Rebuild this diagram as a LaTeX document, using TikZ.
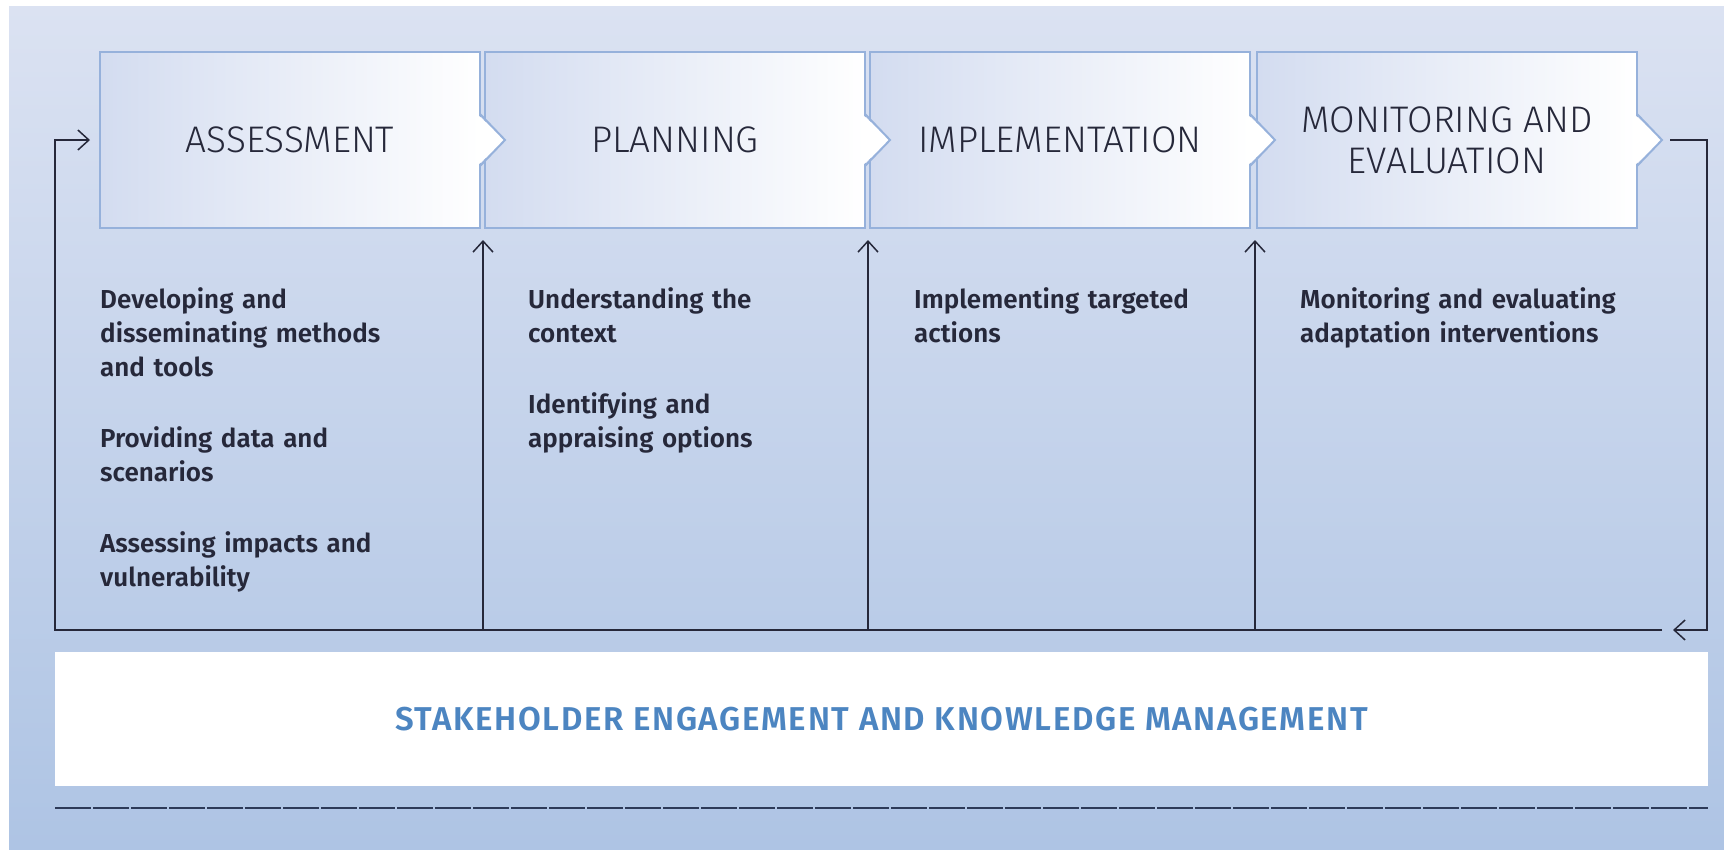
\documentclass[tikz,border=0pt]{standalone}
\usepackage{fontspec}
\IfFontExistsTF{Fira Sans Light}
  {\newfontfamily\titlefont{Fira Sans Light}}
  {\newfontfamily\titlefont{Fira Sans}}
\IfFontExistsTF{Fira Sans SemiBold}
  {\newfontfamily\bodyfont{Fira Sans SemiBold}\let\bodyweight\relax}
  {\newfontfamily\bodyfont{Fira Sans}\let\bodyweight\bfseries}
\usetikzlibrary{arrows.meta,calc,positioning}

\definecolor{bgtop}{RGB}{219,226,242}
\definecolor{bgbot}{RGB}{174,196,228}
\definecolor{boxleft}{RGB}{211,220,240}
\definecolor{boxline}{RGB}{150,177,219}
\definecolor{inkblue}{RGB}{76,133,193}
\definecolor{ink}{RGB}{38,40,58}
\definecolor{rulecol}{RGB}{45,58,88}

\tikzset{
  phase/.style={draw=boxline,line width=2pt,left color=boxleft,right color=white,
    minimum width=380pt,minimum height=176pt,inner sep=0pt,outer sep=0pt,
    align=center,text=ink,font=\titlefont\fontsize{37}{41}\selectfont},
  tasks/.style={anchor=north west,inner sep=0pt,align=left,text width=370pt,
    text=ink,font=\bodyfont\bodyweight\fontsize{26}{34}\selectfont},
  cycleline/.style={draw=ink,line width=1.5pt},
  cyclearrow/.style={cycleline,-{Straight Barb[length=11pt,width=20pt]}},
  rule/.style={draw=rulecol,line width=2pt,dash pattern=on 36pt off 2pt},
}

\begin{document}
\begin{tikzpicture}[x=1pt,y=-1pt]
\useasboundingbox (0,0) rectangle (1724,849);
\fill[white] (0,0) rectangle (1724,849);
\shade[top color=bgtop,bottom color=bgbot] (9,6) rectangle (1724,849);

% the four phases
\node[phase] (p1) at (290,140) {ASSESSMENT};
\node[phase] (p2) at (675,140) {PLANNING};
\node[phase] (p3) at (1060,140) {IMPLEMENTATION};
\node[phase] (p4) at (1447,140) {MONITORING AND\\EVALUATION};

% chevron tips on the right side of each phase
\foreach \p in {p1,p2,p3,p4}{
  \coordinate (\p-tip) at ($(\p.east)+(25,0)$);
  \fill[white] ($(\p.east)+(-3,-26)$) -- (\p-tip) -- ($(\p.east)+(-3,26)$) -- cycle;
  \draw[boxline,line width=2pt] ($(\p.east)+(0,-26)$) -- (\p-tip) -- ($(\p.east)+(0,26)$);
}

% tasks under each phase
\node[tasks] (t1) at (100,287) {Developing and\\disseminating methods\\and tools\\[37pt]Providing data and\\scenarios\\[37pt]Assessing impacts and\\vulnerability};
\node[tasks] (t2) at (528,287) {Understanding the\\context\\[37pt]Identifying and\\appraising options};
\node[tasks] (t3) at (914,287) {Implementing targeted\\actions};
\node[tasks] (t4) at (1300,287) {Monitoring and evaluating\\adaptation interventions};

% stakeholder band
\node[fill=white,minimum width=1653pt,minimum height=134pt,inner sep=0pt,
  text=inkblue,font=\bodyfont\bodyweight\fontsize{33}{33}\selectfont\addfontfeature{LetterSpace=5}]
  (band) at (881.5,719) {STAKEHOLDER ENGAGEMENT AND KNOWLEDGE MANAGEMENT};
\coordinate (rl) at (55,808);
\coordinate (rr) at (1708,808);
\draw[rule] (rl) -- (rr);

% the cycle
\coordinate (ne) at (1707,140);
\coordinate (se) at (1707,630);
\coordinate (back) at (1662,630);
\coordinate (sw) at (55,630);
\draw[cyclearrow] ($(p4-tip)+(8,0)$) -- (ne) -- (se) -- ++(-34,0);
\draw[cyclearrow] (back) -- (sw) |- ($(p1.west)+(-10,0)$);
\foreach \p/\n in {p2/2,p3/3,p4/4}{
  \coordinate (up\n) at ($(\p.south west)+(-2,12)$);
  \draw[cyclearrow] (up\n |- sw) -- (up\n);
}
\end{tikzpicture}
\end{document}
